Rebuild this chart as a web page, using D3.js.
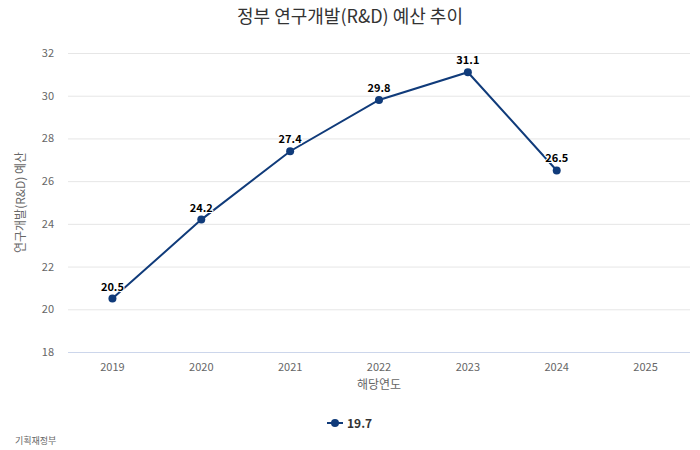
<!DOCTYPE html>
<html><head><meta charset="utf-8">
<script src="https://cdn.jsdelivr.net/npm/d3@7"></script>
<style>
body{margin:0;background:#fff;}
text{font-family:"Noto Sans CJK KR","Noto Sans",sans-serif;}
</style></head>
<body><svg id="c" width="700" height="450"></svg>
<script>
const categories = ["2019","2020","2021","2022","2023","2024","2025"];
const values = [20.5, 24.2, 27.4, 29.8, 31.1, 26.5, null];
const yTicks = [18,20,22,24,26,28,30,32];
const seriesName = "19.7";
const title = "정부 연구개발(R&D) 예산 추이";
const xTitle = "해당연도";
const yTitle = "연구개발(R&D) 예산";
const source = "기획재정부";

const svg = d3.select("#c");
const W=700,H=450;
const m={l:68,r:10,t:53,b:98};
const x = d3.scaleBand().domain(categories).range([m.l, W-m.r]).padding(0);
const y = d3.scaleLinear().domain([18,32]).range([H-m.b, m.t]);
const color = "#103b7a";

// gridlines
svg.append("g").selectAll("line").data(yTicks.filter(t=>t!==18)).join("line")
  .attr("x1",m.l).attr("x2",W-m.r).attr("y1",d=>y(d)+0.5).attr("y2",d=>y(d)+0.5)
  .attr("stroke","#e6e6e6");
// x axis line
svg.append("line").attr("x1",m.l).attr("x2",W-m.r).attr("y1",y(18)+0.5).attr("y2",y(18)+0.5).attr("stroke","#ccd6eb");

// y tick labels
svg.append("g").selectAll("text").data(yTicks).join("text")
  .attr("x",54).attr("y",d=>y(d)+4).attr("text-anchor","end")
  .attr("font-size",11).attr("fill","#666").text(d=>d);
// x tick labels
svg.append("g").selectAll("text").data(categories).join("text")
  .attr("x",d=>x(d)+x.bandwidth()/2).attr("y",y(18)+19).attr("text-anchor","middle")
  .attr("font-size",11).attr("fill","#666").text(d=>d);

// titles
svg.append("text").attr("x",350).attr("y",23).attr("text-anchor","middle")
  .attr("font-size",18).attr("fill","#333").text(title);
svg.append("text").attr("x",(m.l+W-m.r)/2).attr("y",389).attr("text-anchor","middle")
  .attr("font-size",12).attr("fill","#666").text(xTitle);
svg.append("text").attr("transform",`translate(25,${(m.t+H-m.b)/2}) rotate(-90)`)
  .attr("text-anchor","middle").attr("font-size",12).attr("fill","#666").text(yTitle);

// line
const pts = categories.map((c,i)=>({c,v:values[i]})).filter(d=>d.v!=null);
const line = d3.line().x(d=>x(d.c)+x.bandwidth()/2).y(d=>y(d.v));
svg.append("path").datum(pts).attr("d",line).attr("fill","none").attr("stroke",color).attr("stroke-width",2);
svg.append("g").selectAll("circle").data(pts).join("circle")
  .attr("cx",d=>x(d.c)+x.bandwidth()/2).attr("cy",d=>y(d.v)).attr("r",4).attr("fill",color);
svg.append("g").selectAll("text").data(pts).join("text")
  .attr("x",d=>x(d.c)+x.bandwidth()/2).attr("y",d=>y(d.v)-8).attr("text-anchor","middle")
  .attr("font-size",11).attr("font-weight","bold").attr("fill","#000")
  .attr("stroke","#fff").attr("stroke-width",2).attr("paint-order","stroke")
  .text(d=>d.v.toFixed(1));

// legend
const lg = svg.append("g").attr("transform","translate(335,423)");
lg.append("line").attr("x1",-8).attr("x2",8).attr("stroke",color).attr("stroke-width",2);
lg.append("circle").attr("r",4).attr("fill",color);
lg.append("text").attr("x",12).attr("y",4.5).attr("font-size",12).attr("font-weight","bold").attr("fill","#333").text(seriesName);

// source
svg.append("text").attr("x",15).attr("y",444).attr("font-size",9).attr("fill","#666").text(source);
</script></body></html>
